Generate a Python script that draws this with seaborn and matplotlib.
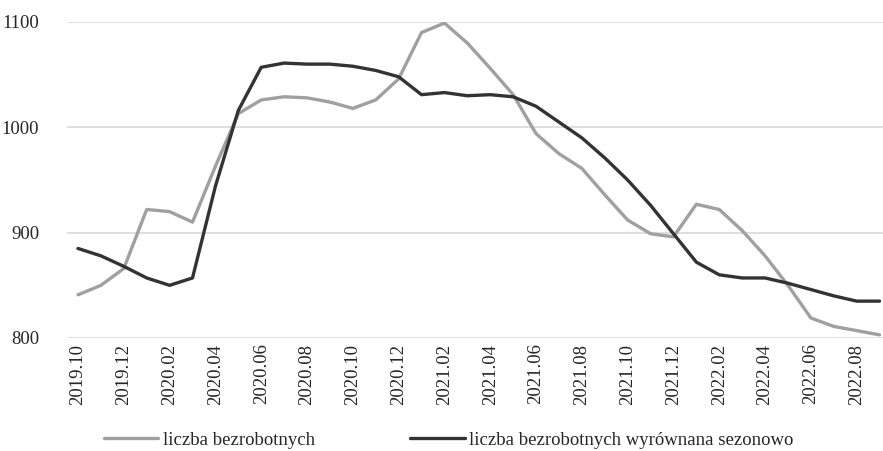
import pandas as pd
import matplotlib
matplotlib.use('Agg')
import matplotlib.pyplot as plt
import seaborn as sns

# months 2019.10 - 2022.09
months = ['2019.10', '2019.11', '2019.12',
          '2020.01', '2020.02', '2020.03', '2020.04', '2020.05', '2020.06',
          '2020.07', '2020.08', '2020.09', '2020.10', '2020.11', '2020.12',
          '2021.01', '2021.02', '2021.03', '2021.04', '2021.05', '2021.06',
          '2021.07', '2021.08', '2021.09', '2021.10', '2021.11', '2021.12',
          '2022.01', '2022.02', '2022.03', '2022.04', '2022.05', '2022.06',
          '2022.07', '2022.08', '2022.09']

unemployed = [841, 850, 866, 922, 920, 910, 963, 1013, 1026, 1029, 1028, 1024,
              1018, 1026, 1046, 1090, 1099, 1080, 1056, 1031, 994, 975, 961,
              936, 912, 899, 896, 927, 922, 902, 878, 850, 819, 811, 807, 803]

unemployed_sa = [885, 878, 868, 857, 850, 857, 944, 1016, 1057, 1061, 1060, 1060,
                 1058, 1054, 1048, 1031, 1033, 1030, 1031, 1029, 1020, 1005, 990,
                 971, 950, 926, 899, 872, 860, 857, 857, 852, 846, 840, 835, 835]

label_raw = 'liczba bezrobotnych'
label_sa = 'liczba bezrobotnych wyrównana sezonowo'

sns.set_style('white')
plt.rcParams['font.family'] = ['Liberation Serif', 'DejaVu Serif']
plt.rcParams['font.size'] = 13.5

df = pd.DataFrame({'month': months, label_raw: unemployed, label_sa: unemployed_sa})
long = df.melt(id_vars='month', var_name='seria', value_name='wartosc')

fig = plt.figure(figsize=(8.83, 4.51), dpi=100)
ax = fig.add_axes([67 / 883, 1 - 338 / 451, 1 - 67 / 883, (338 - 22) / 451])

sns.lineplot(data=long, x='month', y='wartosc', hue='seria', sort=False,
             palette={label_raw: '#a0a0a0', label_sa: '#333333'},
             linewidth=2.4, ax=ax, legend=False)

ax.set_ylim(800, 1100)
ax.set_yticks([800, 900, 1000, 1100])
ax.set_xlim(-0.48, 35.15)
ax.set_xticks(range(0, len(months), 2))
ax.set_xticklabels(months[::2], rotation=90)
ax.tick_params(axis='x', length=0, pad=4)
ax.tick_params(axis='y', length=0, pad=20)
ax.grid(axis='y', color='#d9d9d9', linewidth=1.2)
ax.set_axisbelow(True)
ax.set_xlabel('')
ax.set_ylabel('')
for s in ax.spines.values():
    s.set_visible(False)

handles = [plt.Line2D([], [], color='#a0a0a0', linewidth=2.4),
           plt.Line2D([], [], color='#333333', linewidth=2.4)]
fig.legend(handles, [label_raw, label_sa], loc='center', ncol=2,
           bbox_to_anchor=(0.508, 1 - 440 / 451), frameon=False,
           handlelength=2.9, handletextpad=0.25, columnspacing=5.1,
           fontsize=13.5)

fig.savefig('out.png', dpi=100)
